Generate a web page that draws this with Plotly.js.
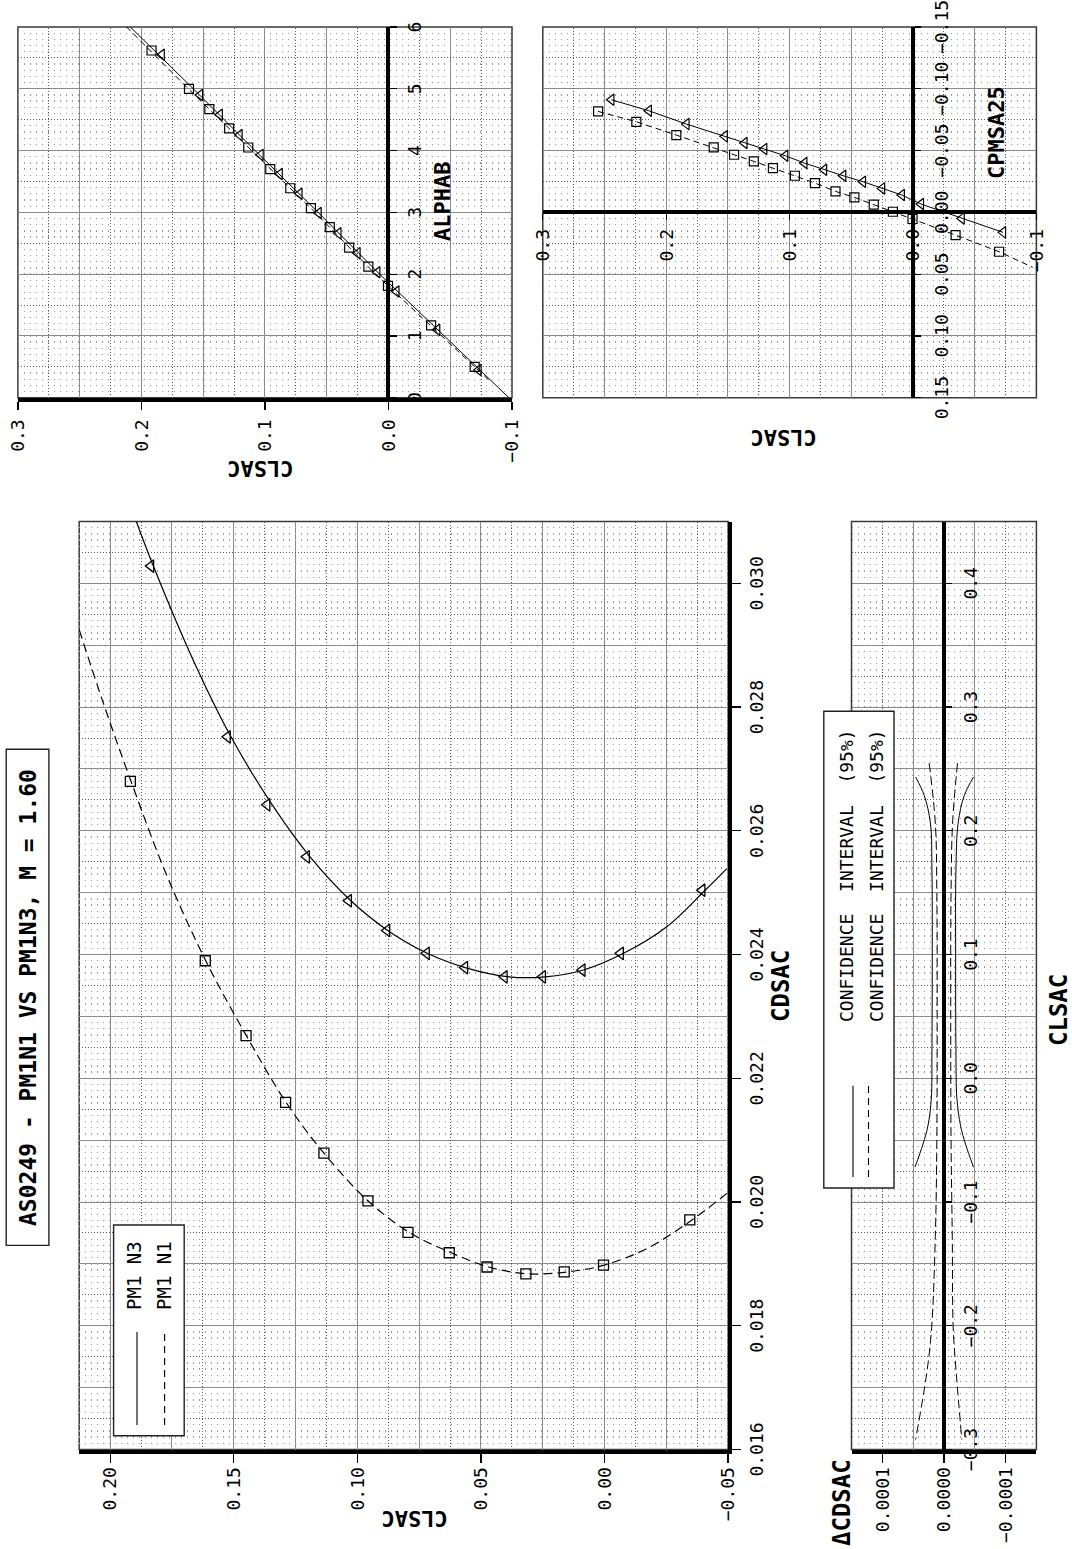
<!DOCTYPE html>
<html>
<head>
<meta charset="utf-8">
<script src="https://cdn.plot.ly/plotly-3.0.1.min.js"></script>
<style>
html,body{margin:0;padding:0;background:#fff;overflow:hidden;}
#page{position:relative;width:1072px;height:1549px;overflow:hidden;background:#fff;}
#chart{position:absolute;left:0;top:0;width:1549px;height:1072px;transform-origin:0 0;transform:translate(0px,1549px) rotate(-90deg);}
</style>
</head>
<body>
<div id="page"><div id="chart"></div></div>
<script>
// ---------------- DATA ----------------
// PM1 N3 (triangles, solid fit)
const n3CL    = [0.2444, 0.2140, 0.1835, 0.1525, 0.1365, 0.1205, 0.1035, 0.0880, 0.0720, 0.0565, 0.0405, 0.0250, 0.0090, -0.0065, -0.0395, -0.0730];
const n3CD    = [null, null, 0.03028, 0.02752, 0.02642, 0.02558, 0.02487, 0.02439, 0.02402, 0.02379, 0.02364, 0.02364, 0.02375, 0.02402, 0.02504, null];
const n3Alpha = [null, null, 5.55, 4.90, 4.58, 4.25, 3.93, 3.62, 3.30, 2.99, 2.66, 2.34, 2.03, 1.72, 1.10, 0.45];
const n3Cpm   = [-0.0911, -0.0822, -0.0714, -0.0615, -0.0561, -0.0512, -0.0458, -0.0399, -0.0345, -0.0296, -0.0248, -0.0194, -0.0140, -0.0067, 0.0049, 0.0162];

// PM1 N1 (squares, dashed fit)
const n1CL    = [0.2552, 0.2242, 0.1918, 0.1615, 0.1450, 0.1290, 0.1135, 0.0957, 0.0795, 0.0628, 0.0475, 0.0318, 0.0163, 0.0004, -0.0345, -0.0698];
const n1CD    = [null, null, 0.02680, 0.02390, 0.02269, 0.02161, 0.02079, 0.02002, 0.01951, 0.01918, 0.01895, 0.01884, 0.01887, 0.01898, 0.01971, null];
const n1Alpha = [null, null, 5.62, 5.00, 4.67, 4.36, 4.05, 3.70, 3.39, 3.07, 2.76, 2.43, 2.12, 1.81, 1.17, 0.50];
const n1Cpm   = [-0.0817, -0.0733, -0.0625, -0.0526, -0.0466, -0.0413, -0.0358, -0.0296, -0.0237, -0.0170, -0.0121, -0.0062, -0.0005, 0.0054, 0.0184, 0.0319];

// fitted drag polars
const n3FitCL = [0.1894, 0.1825, 0.1665, 0.1511, 0.1344, 0.1191, 0.1026, 0.0877, 0.0717, 0.0564, 0.0386, 0.0240, 0.0085, -0.0077, -0.0252, -0.0407, -0.0495];
const n3FitCD = [0.03100, 0.03028, 0.02877, 0.02752, 0.02642, 0.02558, 0.02487, 0.02439, 0.02402, 0.02379, 0.02364, 0.02364, 0.02375, 0.02402, 0.02445, 0.02504, 0.02539];
const n1FitCL = [0.2125, 0.2027, 0.1918, 0.1776, 0.1613, 0.1449, 0.1288, 0.1135, 0.0957, 0.0790, 0.0620, 0.0469, 0.0313, 0.0150, 0.0001, -0.0172, -0.0354, -0.0495];
const n1FitCD = [0.02925, 0.02806, 0.02683, 0.02533, 0.02390, 0.02269, 0.02161, 0.02079, 0.02002, 0.01951, 0.01918, 0.01895, 0.01884, 0.01887, 0.01898, 0.01925, 0.01971, 0.02014];

// lift-curve fits
const n3AlphaFitA  = [0, 1, 2, 3, 4, 5, 6];
const n3AlphaFitCL = [-0.0975, -0.0450, 0.0072, 0.0570, 0.1080, 0.1580, 0.2090];
const n1AlphaFitA  = [0.29, 1, 2, 3, 4, 5, 6];
const n1AlphaFitCL = [-0.0810, -0.0430, 0.0105, 0.0595, 0.1105, 0.1620, 0.2120];

// pitching-moment lines
const n1CpmLineCL  = [0.2552, 0.2242, 0.1918, 0.1615, 0.1450, 0.1290, 0.1135, 0.0957, 0.0795, 0.0628, 0.0475, 0.0318, 0.0163, 0.0004, -0.0345, -0.0698, -0.0970];
const n1CpmLineCpm = [-0.0817, -0.0733, -0.0625, -0.0526, -0.0466, -0.0413, -0.0358, -0.0296, -0.0237, -0.0170, -0.0121, -0.0062, -0.0005, 0.0054, 0.0184, 0.0319, 0.0445];

// 95% confidence intervals (delta CDSAC vs CLSAC)
const ciN3CL = [0.2435, 0.2286, 0.2063, 0.1691, 0.0956, 0.0210, -0.0161, -0.0384, -0.0532, -0.0718];
const ciN3Up = [4.6e-5, 3.2e-5, 2.2e-5, 1.95e-5, 1.9e-5, 1.95e-5, 2.05e-5, 2.6e-5, 3.4e-5, 4.7e-5];
const ciN3Lo = [-4.8e-5, -3.3e-5, -2.3e-5, -1.95e-5, -1.9e-5, -1.95e-5, -2.1e-5, -2.7e-5, -3.5e-5, -4.8e-5];
const ciN1CL = [0.2547, 0.2063, 0.1500, 0.0500, -0.0500, -0.1278, -0.2017, -0.2385, -0.2919];
const ciN1Up = [2.4e-5, 1.4e-5, 1.15e-5, 1.1e-5, 1.15e-5, 1.4e-5, 2.0e-5, 2.8e-5, 4.6e-5];
const ciN1Lo = [-2.2e-5, -1.4e-5, -1.15e-5, -1.1e-5, -1.15e-5, -1.35e-5, -1.5e-5, -2.0e-5, -2.9e-5];

// tick labels
const cdTickVals   = [0.016, 0.018, 0.020, 0.022, 0.024, 0.026, 0.028, 0.030];
const cdTickText   = ['0.016', '0.018', '0.020', '0.022', '0.024', '0.026', '0.028', '0.030'];
const clMainVals   = [-0.05, 0, 0.05, 0.10, 0.15, 0.20];
const clMainText   = ['\u22120.05', '0.00', '0.05', '0.10', '0.15', '0.20'];
const clLowVals    = [-0.3, -0.2, -0.1, 0, 0.1, 0.2, 0.3, 0.4];
const clLowText    = ['\u22120.3', '\u22120.2', '\u22120.1', '0.0', '0.1', '0.2', '0.3', '0.4'];
const dcdVals      = [-0.0001, 0, 0.0001];
const dcdText      = ['\u22120.0001', '0.0000', '0.0001'];
const alphaVals    = [0, 1, 2, 3, 4, 5, 6];
const alphaText    = ['0', '1', '2', '3', '4', '5', '6'];
const clSmallVals  = [-0.1, 0, 0.1, 0.2, 0.3];
const clSmallText  = ['\u22120.1', '0.0', '0.1', '0.2', '0.3'];
const cpmVals      = [0.15, 0.10, 0.05, 0, -0.05, -0.10, -0.15];
const cpmText      = ['0.15', '0.10', '0.05', '0.00', '\u22120.05', '\u22120.10', '\u22120.15'];

// ---------------- GEOMETRY / STYLE ----------------
const W = 1549, H = 1072;
const px = u => u / W;
const py = v => 1 - v / H;
const MONO = 'DejaVu Sans Mono, Liberation Mono, monospace';
const GRID = '#8a8a8a', DOTLINE = '#5a5a5a', DOTS = '#9c9c9c';

const DOM = {
  main:  {x: [px(99.5), px(1027.5)],  y: [py(728.1), py(79.2)]},
  low:   {x: [px(99.5), px(1027.5)],  y: [py(1036.4), py(851.5)]},
  alpha: {x: [px(1151.3), px(1522)],  y: [py(512), py(17.9)]},
  cpm:   {x: [px(1151.3), px(1522)],  y: [py(1036.4), py(542.8)]}
};
const RNG = {
  mainX: [0.016, 0.031], mainY: [-0.05, 0.2125],
  lowX: [-0.3, 0.45], lowY: [-0.00015, 0.00015],
  alphaX: [0, 6], alphaY: [-0.1, 0.3],
  cpmX: [0.15, -0.15], cpmY: [-0.1, 0.3]
};
const zeroPos = (d, r) => d[0] + (0 - r[0]) / (r[1] - r[0]) * (d[1] - d[0]);

function baseAxis(p) {
  const ax = {
    domain: p.domain, range: p.range, autorange: false, anchor: p.anchor,
    tickmode: 'array', tickvals: p.tickvals, ticktext: p.ticktext,
    ticks: 'outside', ticklen: p.ticklen || 9, tickwidth: 1.2, tickcolor: '#000',
    ticklabelstandoff: p.standoff || 0, ticklabeloverflow: 'allow',
    tickfont: {family: MONO, size: 18, color: '#000'}, tickangle: 0,
    showgrid: p.showgrid !== false, gridcolor: GRID, gridwidth: 1,
    showline: true, linewidth: 4, linecolor: '#000',
    zeroline: false, fixedrange: true
  };
  if (p.minor) ax.minor = Object.assign({showgrid: true, gridcolor: GRID, gridwidth: 1, ticks: ''}, p.minor);
  if (p.position !== undefined) ax.position = p.position;
  return ax;
}
function overlayAxis(p) {
  const ax = {
    overlaying: p.over, anchor: p.anchor, range: p.range, autorange: false,
    tickmode: 'linear', tick0: p.tick0, dtick: p.dtick,
    showgrid: true, gridcolor: DOTLINE, gridwidth: 1, griddash: '1px,2px',
    ticks: '', showticklabels: false, showline: false, zeroline: false, fixedrange: true
  };
  if (p.dots) ax.minor = {tick0: 0, dtick: p.dots, showgrid: true, gridcolor: DOTS, gridwidth: 1.3, griddash: '1px,5px', ticks: ''};
  return ax;
}

// ---------------- TRACES ----------------
const blk = '#000';
const traces = [
  // main drag polar
  {x: n3FitCD, y: n3FitCL, xaxis: 'x', yaxis: 'y', mode: 'lines', line: {color: blk, width: 1.2, shape: 'spline'}, name: 'PM1 N3 fit', hoverinfo: 'skip'},
  {x: n1FitCD, y: n1FitCL, xaxis: 'x', yaxis: 'y', mode: 'lines', line: {color: blk, width: 1.2, shape: 'spline', dash: '9px,5px'}, name: 'PM1 N1 fit', hoverinfo: 'skip'},
  {x: n3CD, y: n3CL, xaxis: 'x', yaxis: 'y', mode: 'markers', name: 'PM1 N3', marker: {symbol: 'triangle-up-open', size: 11, color: blk, line: {width: 1.3, color: blk}}},
  {x: n1CD, y: n1CL, xaxis: 'x', yaxis: 'y', mode: 'markers', name: 'PM1 N1', marker: {symbol: 'square-open', size: 10, color: blk, line: {width: 1.3, color: blk}}},
  // confidence intervals
  {x: ciN3CL, y: ciN3Up, xaxis: 'x2', yaxis: 'y2', mode: 'lines', line: {color: blk, width: 1, shape: 'spline'}, name: 'CI N3 +'},
  {x: ciN3CL, y: ciN3Lo, xaxis: 'x2', yaxis: 'y2', mode: 'lines', line: {color: blk, width: 1, shape: 'spline'}, name: 'CI N3 -'},
  {x: ciN1CL, y: ciN1Up, xaxis: 'x2', yaxis: 'y2', mode: 'lines', line: {color: blk, width: 1, shape: 'spline', dash: '9px,4px'}, name: 'CI N1 +'},
  {x: ciN1CL, y: ciN1Lo, xaxis: 'x2', yaxis: 'y2', mode: 'lines', line: {color: blk, width: 1, shape: 'spline', dash: '9px,4px'}, name: 'CI N1 -'},
  // lift curve
  {x: n3AlphaFitA, y: n3AlphaFitCL, xaxis: 'x3', yaxis: 'y3', mode: 'lines', line: {color: blk, width: 1}, name: 'N3 CL fit'},
  {x: n1AlphaFitA, y: n1AlphaFitCL, xaxis: 'x3', yaxis: 'y3', mode: 'lines', line: {color: blk, width: 1, dash: '6px,4px'}, name: 'N1 CL fit'},
  {x: n3Alpha, y: n3CL, xaxis: 'x3', yaxis: 'y3', mode: 'markers', name: 'N3 CL', marker: {symbol: 'triangle-up-open', size: 10, color: blk, line: {width: 1.2, color: blk}}},
  {x: n1Alpha, y: n1CL, xaxis: 'x3', yaxis: 'y3', mode: 'markers', name: 'N1 CL', marker: {symbol: 'square-open', size: 9, color: blk, line: {width: 1.2, color: blk}}},
  // pitching moment
  {x: n3Cpm, y: n3CL, xaxis: 'x4', yaxis: 'y4', mode: 'lines+markers', name: 'N3 CM', line: {color: blk, width: 1}, marker: {symbol: 'triangle-up-open', size: 10, color: blk, line: {width: 1.2, color: blk}}},
  {x: n1CpmLineCpm, y: n1CpmLineCL, xaxis: 'x4', yaxis: 'y4', mode: 'lines', name: 'N1 CM line', line: {color: blk, width: 1, dash: '6px,4px'}},
  {x: n1Cpm, y: n1CL, xaxis: 'x4', yaxis: 'y4', mode: 'markers', name: 'N1 CM', marker: {symbol: 'square-open', size: 9, color: blk, line: {width: 1.2, color: blk}}},
  // empty helpers for the fine paper grids
  {x: [], y: [], xaxis: 'x5', yaxis: 'y5', mode: 'markers', hoverinfo: 'skip'},
  {x: [], y: [], xaxis: 'x6', yaxis: 'y6', mode: 'markers', hoverinfo: 'skip'},
  {x: [], y: [], xaxis: 'x7', yaxis: 'y7', mode: 'markers', hoverinfo: 'skip'},
  {x: [], y: [], xaxis: 'x8', yaxis: 'y8', mode: 'markers', hoverinfo: 'skip'}
];

// ---------------- LAYOUT ----------------
const layout = {
  width: W, height: H, autosize: false,
  margin: {l: 0, r: 0, t: 0, b: 0, pad: 0},
  paper_bgcolor: '#fff', plot_bgcolor: '#fff',
  showlegend: false,
  font: {family: MONO, color: '#000'},

  xaxis: baseAxis({domain: DOM.main.x, range: RNG.mainX, anchor: 'y', tickvals: cdTickVals, ticktext: cdTickText, minor: {tick0: 0, dtick: 0.001}, standoff: 0}),
  yaxis: baseAxis({domain: DOM.main.y, range: RNG.mainY, anchor: 'x', tickvals: clMainVals, ticktext: clMainText, minor: {tick0: 0, dtick: 0.025}, standoff: 1}),

  xaxis2: baseAxis({domain: DOM.low.x, range: RNG.lowX, anchor: 'free', position: zeroPos(DOM.low.y, RNG.lowY), tickvals: clLowVals, ticktext: clLowText, minor: {tick0: 0, dtick: 0.05}, ticklen: 6, standoff: 3}),
  yaxis2: baseAxis({domain: DOM.low.y, range: RNG.lowY, anchor: 'x2', tickvals: dcdVals, ticktext: dcdText, showgrid: false, minor: {tick0: 0.00005, dtick: 0.0001}, standoff: 1}),

  xaxis3: baseAxis({domain: DOM.alpha.x, range: RNG.alphaX, anchor: 'free', position: zeroPos(DOM.alpha.y, RNG.alphaY), tickvals: alphaVals, ticktext: alphaText, ticklen: 7, standoff: 2}),
  yaxis3: baseAxis({domain: DOM.alpha.y, range: RNG.alphaY, anchor: 'x3', tickvals: clSmallVals, ticktext: clSmallText, minor: {tick0: 0, dtick: 0.05}, ticklen: 8, standoff: 6}),

  xaxis4: baseAxis({domain: DOM.cpm.x, range: RNG.cpmX, anchor: 'free', position: zeroPos(DOM.cpm.y, RNG.cpmY), tickvals: cpmVals, ticktext: cpmText, ticklen: 6, standoff: 5}),
  yaxis4: baseAxis({domain: DOM.cpm.y, range: RNG.cpmY, anchor: 'free', position: zeroPos(DOM.cpm.x, RNG.cpmX), tickvals: clSmallVals, ticktext: clSmallText, minor: {tick0: 0, dtick: 0.05}, ticklen: 6, standoff: 5}),

  xaxis5: overlayAxis({over: 'x', anchor: 'y5', range: RNG.mainX, tick0: 0.0005, dtick: 0.001, dots: 0.0001}),
  yaxis5: overlayAxis({over: 'y', anchor: 'x5', range: RNG.mainY, tick0: 0.0125, dtick: 0.025}),
  xaxis6: overlayAxis({over: 'x2', anchor: 'y6', range: RNG.lowX, tick0: 0.025, dtick: 0.05, dots: 0.005}),
  yaxis6: overlayAxis({over: 'y2', anchor: 'x6', range: RNG.lowY, tick0: 0, dtick: 0.0001}),
  xaxis7: overlayAxis({over: 'x3', anchor: 'y7', range: RNG.alphaX, tick0: 0.5, dtick: 1, dots: 0.1}),
  yaxis7: overlayAxis({over: 'y3', anchor: 'x7', range: RNG.alphaY, tick0: 0.025, dtick: 0.05}),
  xaxis8: overlayAxis({over: 'x4', anchor: 'y8', range: RNG.cpmX, tick0: 0.025, dtick: 0.05, dots: 0.005}),
  yaxis8: overlayAxis({over: 'y4', anchor: 'x8', range: RNG.cpmY, tick0: 0.025, dtick: 0.05}),

  shapes: [],
  annotations: []
};

// plot frames
[['x', 'y'], ['x2', 'y2'], ['x3', 'y3'], ['x4', 'y4']].forEach(([xa, ya]) => {
  layout.shapes.push({type: 'rect', xref: xa + ' domain', yref: ya + ' domain', x0: 0, x1: 1, y0: 0, y1: 1,
    line: {color: '#3a3a3a', width: 1.5}, layer: 'below'});
});
const paperRect = (u0, u1, v0, v1, fill) => ({type: 'rect', xref: 'paper', yref: 'paper',
  x0: px(u0), x1: px(u1), y0: py(v1), y1: py(v0), line: {color: '#222', width: 1.4}, fillcolor: fill || 'rgba(0,0,0,0)', layer: 'above'});
const paperLine = (u0, u1, v, dash) => ({type: 'line', xref: 'paper', yref: 'paper',
  x0: px(u0), x1: px(u1), y0: py(v), y1: py(v), line: {color: '#000', width: 1.1, dash: dash || 'solid'}, layer: 'above'});

// title box
layout.shapes.push(paperRect(303.6, 799.8, 6.2, 48.9));
// main legend
layout.shapes.push(paperRect(113.3, 324, 113.6, 184.2, '#fff'));
layout.shapes.push(paperLine(124.1, 217, 137));
layout.shapes.push(paperLine(124.1, 217, 164.6, '7px,5px'));
// confidence legend
layout.shapes.push(paperRect(361, 837.7, 823.8, 894, '#fff'));
layout.shapes.push(paperLine(372.1, 463.2, 853));
layout.shapes.push(paperLine(372.1, 463.2, 868.5, '7px,5px'));

const ann = (u, v, text, opt) => Object.assign({xref: 'paper', yref: 'paper', x: px(u), y: py(v), text: text,
  showarrow: false, xanchor: 'center', yanchor: 'middle', font: {family: MONO, size: 22, color: '#000', weight: 'bold'}}, opt || {});
const boldFont = s => ({family: MONO, size: s, color: '#000', weight: 'bold'});
const regFont = s => ({family: MONO, size: s, color: '#000'});

layout.annotations.push(
  ann(551.7, 28, 'AS0249 - PM1N1 VS PM1N3, M = 1.60', {font: boldFont(23)}),
  ann(563, 780.6, 'CDSAC', {font: boldFont(24)}),
  ann(29.7, 415, 'CLSAC', {font: boldFont(22), textangle: -90}),
  ann(539, 1058.8, 'CLSAC', {font: boldFont(24)}),
  ann(46, 842, '\u0394CDSAC', {font: boldFont(24)}),
  ann(1080.7, 260.9, 'CLSAC', {font: boldFont(22), textangle: -90}),
  ann(1347.3, 442.5, 'ALPHAB', {font: boldFont(22)}),
  ann(1110.7, 784, 'CLSAC', {font: boldFont(22), textangle: -90}),
  ann(1416.5, 996.7, 'CPMSA25', {font: boldFont(22)}),
  ann(237.2, 134, 'PM1 N3', {font: regFont(19), xanchor: 'left'}),
  ann(237.2, 164.4, 'PM1 N1', {font: regFont(19), xanchor: 'left'}),
  ann(525.2, 846, 'CONFIDENCE\u00a0\u00a0INTERVAL\u00a0\u00a0(95%)', {font: regFont(18), xanchor: 'left'}),
  ann(525.2, 876, 'CONFIDENCE\u00a0\u00a0INTERVAL\u00a0\u00a0(95%)', {font: regFont(18), xanchor: 'left'})
);

Plotly.newPlot('chart', traces, layout, {staticPlot: true, displayModeBar: false});
</script>
</body>
</html>
